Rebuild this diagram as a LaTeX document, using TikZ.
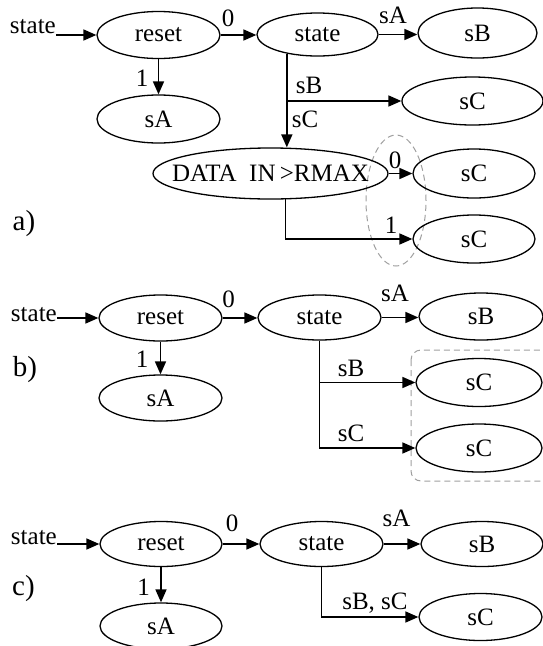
\documentclass[tikz,border=0pt]{standalone}
\usepackage{fontspec}
\setmainfont{Liberation Serif}
\usetikzlibrary{arrows.meta,shapes.geometric}
\newcommand\ztx[1]{\makebox[0pt]{#1}}
\begin{document}
\begin{tikzpicture}[x=1pt,y=-1pt,
  every node/.style={font=\fontsize{25}{29}\selectfont},
  stt/.style={draw, ellipse, line width=1.3pt, inner sep=0pt},
  arr/.style={line width=1.7pt, -{Triangle[length=13pt,width=11pt]}},
  lbl/.style={inner sep=0pt},
  part/.style={inner sep=0pt, font=\fontsize{29}{33}\selectfont},
  grp/.style={draw=gray!75, line width=1pt, dash pattern=on 6pt off 4pt}
]
\useasboundingbox (0,0) rectangle (543,646);

% ---------- a) ----------
\node[grp, ellipse, minimum width=60pt, minimum height=131pt, inner sep=0pt] (aG) at (396,200.5) {};
\node[lbl, anchor=east] (aL) at (56,26.5) {state};
\node[stt, minimum width=123pt, minimum height=47pt] (aRe) at (158.5,35) {\ztx{reset}};
\node[stt, minimum width=121pt, minimum height=43pt] (aSt) at (317.5,34.5) {\ztx{state}};
\node[stt, minimum width=119pt, minimum height=50pt] (aSb) at (477.5,33) {\ztx{sB}};
\node[stt, minimum width=123pt, minimum height=48pt] (aSa) at (158.5,119) {\ztx{sA}};
\node[stt, minimum width=141pt, minimum height=48pt] (aC1) at (472.5,101) {\ztx{sC}};
\node[stt, minimum width=235pt, minimum height=51pt] (aD) at (270.5,173.5) {\ztx{DATA\ \ IN\,>RMAX}};
\node[stt, minimum width=122pt, minimum height=49pt] (aC2) at (474,173.5) {\ztx{sC}};
\node[stt, minimum width=122pt, minimum height=48pt] (aC3) at (474,239) {\ztx{sC}};

\draw[arr] (aL.east |- aRe.west) -- (aRe.west);
\draw[arr] (aRe.east) -- (aRe.east -| aSt.west);
\draw[arr] (aRe.south) -- (aSa.north);
\draw[arr] (aSt.east) -- (aSt.east -| aSb.west);
\draw[arr] (aSt.212) |- (aC1.west);
\draw[arr] (aSt.212) -- (aSt.212 |- aD.north);
\draw[arr] (aD.east) -- (aC2.west);
\draw[arr] (aD.300) |- (aC3.west);

\node[lbl] (a0) at (228,18) {0};
\node[lbl] (a1) at (142,78) {1};
\node[lbl] (asA) at (393,15) {sA};
\node[lbl] (asB) at (309,85) {sB};
\node[lbl] (asC) at (305,119) {sC};
\node[lbl] (a0b) at (395,160) {0};
\node[lbl] (a1b) at (391,225) {1};
\node[part] (alab) at (24,224) {a)};

% ---------- b) ----------
\draw[grp, rounded corners=10pt] (411,350) rectangle (556,481);
\node[lbl, anchor=east] (bL) at (57,314.5) {state};
\node[stt, minimum width=123pt, minimum height=46pt] (bRe) at (160.5,318) {\ztx{reset}};
\node[stt, minimum width=123pt, minimum height=45pt] (bSt) at (319.5,317.5) {\ztx{state}};
\node[stt, minimum width=124pt, minimum height=47pt] (bSb) at (481,316.5) {\ztx{sB}};
\node[stt, minimum width=123pt, minimum height=46pt] (bSa) at (160.5,398) {\ztx{sA}};
\node[stt, minimum width=126pt, minimum height=48pt] (bC1) at (479,382.5) {\ztx{sC}};
\node[stt, minimum width=126pt, minimum height=48pt] (bC2) at (479,448) {\ztx{sC}};

\draw[arr] (bL.east |- bRe.west) -- (bRe.west);
\draw[arr] (bRe.east) -- (bRe.east -| bSt.west);
\draw[arr] (bRe.south) -- (bSa.north);
\draw[arr] (bSt.east) -- (bSt.east -| bSb.west);
\draw[arr] (bSt.south) |- (bC1.west);
\draw[arr] (bSt.south) |- (bC2.west);

\node[lbl] (b0) at (228.5,299) {0};
\node[lbl] (b1) at (142,359) {1};
\node[lbl] (bsA) at (395,293) {sA};
\node[lbl] (bsB) at (351,368) {sB};
\node[lbl] (bsC) at (351,433) {sC};
\node[part] (blab) at (25,370) {b)};

% ---------- c) ----------
\node[lbl, anchor=east] (cL) at (57,537.5) {state};
\node[stt, minimum width=122pt, minimum height=45pt] (cRe) at (161,544) {\ztx{reset}};
\node[stt, minimum width=123pt, minimum height=45pt] (cSt) at (321.5,544) {\ztx{state}};
\node[stt, minimum width=122pt, minimum height=45pt] (cSb) at (482,544) {\ztx{sB}};
\node[stt, minimum width=122pt, minimum height=46pt] (cSa) at (161,626) {\ztx{sA}};
\node[stt, minimum width=123pt, minimum height=47pt] (cC) at (480.5,617) {\ztx{sC}};

\draw[arr] (cL.east |- cRe.west) -- (cRe.west);
\draw[arr] (cRe.east) -- (cRe.east -| cSt.west);
\draw[arr] (cRe.south) -- (cSa.north);
\draw[arr] (cSt.east) -- (cSt.east -| cSb.west);
\draw[arr] (cSt.south) |- (cC.west);

\node[lbl] (c0) at (232,523) {0};
\node[lbl] (c1) at (143.5,587) {1};
\node[lbl] (csA) at (396.5,518.5) {sA};
\node[lbl] (csBC) at (375,603.5) {sB, sC};
\node[part] (clab) at (23.5,589) {c)};
\end{tikzpicture}
\end{document}
